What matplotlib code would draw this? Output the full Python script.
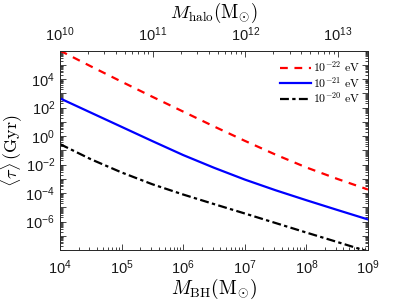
import numpy as np
import matplotlib
matplotlib.use("Agg")
import matplotlib.pyplot as plt
from matplotlib.ticker import LogLocator, NullFormatter

plt.rcParams['font.family'] = ['Liberation Sans', 'DejaVu Sans']
plt.rcParams['mathtext.fontset'] = 'cm'

# data (log10 values)
log_mbh = [4.0, 4.5, 5.0, 5.5, 6.0, 6.5, 7.0, 7.5, 8.0, 8.5, 9.0]
log_tau_22 = [6.0, 4.9, 3.82, 2.76, 1.72, 0.68, -0.33, -1.3, -2.2, -3.0, -3.75]
log_tau_21 = [2.65, 1.65, 0.65, -0.35, -1.33, -2.22, -3.05, -3.8, -4.5, -5.18, -5.85]
log_tau_20 = [-0.56, -1.62, -2.55, -3.38, -4.1, -4.77, -5.43, -6.1, -6.77, -7.43, -8.1]
labels = [r'$10^{-22}\ \rm eV$', r'$10^{-21}\ \rm eV$', r'$10^{-20}\ \rm eV$']
halo_lim = (1e10, 2.1e13)
mbh_lim = (1e4, 1e9)
tau_lim = (1e-8, 1e6)
ytick_exps = [-6, -4, -2, 0, 2, 4]

mbh = 10 ** np.array(log_mbh)
fig = plt.figure(figsize=(4.07, 3.05), dpi=100)
ax = fig.add_axes([0.1474, 0.180, 0.7568, 0.654])

ax.plot(mbh, 10 ** np.array(log_tau_22), color='red', ls=(0, (3.5, 3)), lw=1.6, label=labels[0])
ax.plot(mbh, 10 ** np.array(log_tau_21), color='blue', ls='-', lw=1.6, label=labels[1])
ax.plot(mbh, 10 ** np.array(log_tau_20), color='black', ls=(0, (4, 1.5, 1.5, 1.5)), lw=1.6, label=labels[2])

ax.set_xscale('log')
ax.set_yscale('log')

edge = '#262626'
for s in ax.spines.values():
    s.set_color(edge)
    s.set_linewidth(0.6)

ax.set_yticks(10.0 ** np.arange(-8, 7))
ax.set_yticklabels([r'$\mathdefault{10^{%d}}$' % e if e in ytick_exps else '' for e in range(-8, 7)])
ax.yaxis.set_minor_locator(LogLocator(base=10, subs=np.arange(2, 10), numticks=30))
ax.yaxis.set_minor_formatter(NullFormatter())
ax.xaxis.set_minor_locator(LogLocator(base=10, subs=np.arange(2, 10), numticks=30))
ax.xaxis.set_minor_formatter(NullFormatter())
ax.set_xlim(*mbh_lim)
ax.set_ylim(*tau_lim)

ax.tick_params(which='both', direction='in', right=True, top=False, colors=edge, labelcolor='#1a1a1a', labelsize=10.5, width=0.6)
ax.tick_params(which='major', length=4.5)
ax.tick_params(which='minor', length=2.3)
ax.tick_params(axis='x', which='major', pad=6)

ax.set_xlabel(r'$M_{\rm BH}(\rm M_{\odot})$', fontsize=14, labelpad=0)
ax.set_ylabel(r'$\langle\tau\rangle\,(\rm Gyr)$', fontsize=13, labelpad=0)

ax2 = ax.twiny()
ax2.set_xscale('log')
ax2.set_xlim(*halo_lim)
ax2.xaxis.set_minor_locator(LogLocator(base=10, subs=np.arange(2, 10), numticks=30))
ax2.xaxis.set_minor_formatter(NullFormatter())
ax2.tick_params(which='both', direction='in', colors=edge, labelcolor='#1a1a1a', labelsize=10.5, width=0.6)
ax2.tick_params(which='major', length=4.5, pad=5)
ax2.tick_params(which='minor', length=2.3)
for s in ax2.spines.values():
    s.set_color(edge)
    s.set_linewidth(0.6)
ax2.set_xlabel(r'$M_{\rm halo}(\rm M_{\odot})$', fontsize=13.5, labelpad=5)

ax.legend(loc='upper right', frameon=False, fontsize=8.5, handlelength=2.6, handletextpad=0.15,
          labelspacing=0.05, borderaxespad=0, borderpad=0.4, bbox_to_anchor=(0.989, 0.977))

fig.savefig('out.png', dpi=100)
